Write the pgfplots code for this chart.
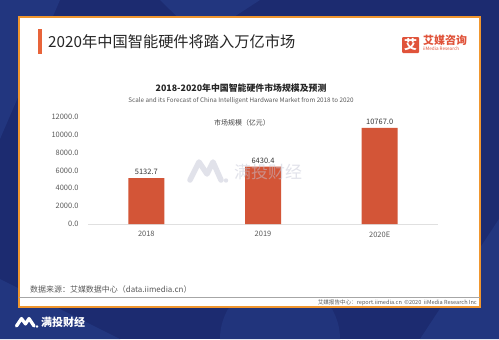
\documentclass[border=0pt]{standalone}
\usepackage{fontspec}
\setmainfont{Noto Sans CJK SC}
\usepackage{pgfplots}
\pgfplotsset{compat=1.18}
\definecolor{bgblue}{HTML}{1C2B70}
\definecolor{bgblue2}{HTML}{22367F}
\definecolor{cardorange}{HTML}{F0962E}
\definecolor{accent}{HTML}{E8643A}
\definecolor{barc}{HTML}{D35537}
\definecolor{logored}{HTML}{E0533A}
\definecolor{ticktxt}{HTML}{595959}
\definecolor{wm}{HTML}{C4C6D6}
\begin{document}
\begin{tikzpicture}[x=1bp,y=1bp]
% background
\fill[bgblue] (0,0) rectangle (499,339);
\fill[bgblue2] (0,339) -- (0,200) -- (60,339) -- cycle;
\fill[bgblue2] (160,339) -- (200,300) -- (260,339) -- cycle;
\fill[bgblue2] (420,0) -- (499,0) -- (499,120) -- cycle;
\fill[bgblue2] (0,0) -- (0,60) -- (120,0) -- cycle;
\fill[bgblue2!80!bgblue] (220,0) arc[start angle=180,end angle=0,radius=60] -- cycle;
% card
\fill[white,draw=cardorange,line width=1.2bp] (19,32) rectangle (480,322);
% accent bar and title
\fill[accent] (38,285) rectangle (42,310);
\node[anchor=west,inner sep=0,font=\fontsize{15.3}{17}\selectfont,text=black!85] at (48,297) {2020年中国智能硬件将踏入万亿市场};
% logo
\fill[logored,rounded corners=1bp] (402,286) rectangle (419,302);
\node[text=white,inner sep=0,font=\fontsize{13}{14}\selectfont\bfseries] at (410.5,294) {艾};
\node[anchor=west,inner sep=0,text=logored,font=\fontsize{11}{12}\selectfont\bfseries] at (423,298.5) {艾媒咨询};
\node[anchor=west,inner sep=0,text=logored,font=\fontsize{4.6}{5}\selectfont] at (423,290.5) {iiMedia Research};
% chart titles
\node[inner sep=0,font=\fontsize{8.9}{11}\selectfont\bfseries,text=black!85] at (241,251) {2018-2020年中国智能硬件市场规模及预测};
\node[inner sep=0,font=\fontsize{6.3}{7}\selectfont,text=ticktxt] at (241,238) {Scale and its Forecast of China Intelligent Hardware Market from 2018 to 2020};
\node[inner sep=0,font=\fontsize{7}{8}\selectfont,text=black!75] at (242,216) {市场规模（亿元）};
% axis
\begin{axis}[
  at={(88bp,115bp)}, anchor=south west,
  scale only axis, width=350bp, height=107bp,
  xmin=-0.5, xmax=2.5, ymin=0, ymax=12000,
  xtick={0,1,2}, xticklabels={2018,2019,2020E},
  ytick={0,2000,4000,6000,8000,10000,12000},
  axis x line=bottom, axis y line=left,
  x axis line style={draw=black!12,-},
  y axis line style={draw=none},
  major tick length=0pt,
  /pgf/number format/assume math mode=true,
  scaled y ticks=false,
  yticklabel={\pgfmathprintnumber[fixed,fixed zerofill,precision=1,1000 sep={}]{\tick}},
  tick label style={font=\fontsize{7.5}{8}\selectfont,text=ticktxt},
  yticklabel style={xshift=-6bp},
  xticklabel style={yshift=-4bp},
  ybar, bar width=36bp,
  nodes near coords={\pgfmathprintnumber[fixed,fixed zerofill,precision=1,1000 sep={}]{\pgfplotspointmeta}},
  nodes near coords style={font=\fontsize{7.5}{8}\selectfont,text=black!80},
  clip=false,
]
\addplot[fill=barc,draw=none] coordinates {(0,5132.7) (1,6430.4) (2,10767.0)};
\end{axis}
% watermark
\begin{scope}[opacity=0.5]
\draw[wm,line width=5.5bp,line join=round,line cap=round] (190,159) -- (199,177) -- (207,165) -- (213,177) -- (221,159);
\fill[wm] (226,158.5) circle (2.2);
\node[anchor=west,inner sep=0,text=wm,font=\fontsize{17}{18}\selectfont] at (234,167) {满投财经};
\end{scope}
% footer
\node[anchor=west,inner sep=0,font=\fontsize{8}{9}\selectfont,text=ticktxt] at (30,50) {数据来源：艾媒数据中心（data.iimedia.cn）};
\draw[black!35,line width=0.8bp] (19,42) -- (480,42);
\node[anchor=east,inner sep=0,font=\fontsize{5.6}{6}\selectfont,text=ticktxt] at (477,36.5) {艾媒报告中心：report.iimedia.cn\ \ ©2020\ \ iiMedia Research Inc};
% bottom-left logo
\draw[white,line width=3.2bp,line join=round,line cap=round] (16.5,13) -- (21.5,20.5) -- (25.5,15) -- (29,20.5) -- (34,13);
\fill[white] (37,12.5) circle (1.4);
\node[anchor=west,inner sep=0,text=white,font=\fontsize{11}{12}\selectfont\bfseries] at (41,17) {满投财经};
\end{tikzpicture}
\end{document}
